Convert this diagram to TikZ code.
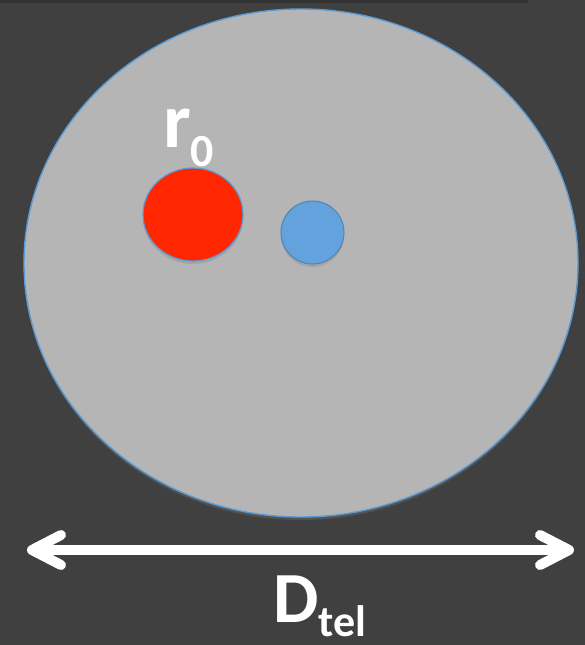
\documentclass[tikz,border=0pt]{standalone}
\usepackage{fontspec}
\setmainfont{Carlito}
\usetikzlibrary{arrows.meta,shadows}
\definecolor{slate}{HTML}{404040}
\definecolor{pupilgray}{HTML}{B5B5B5}
\definecolor{rimblue}{HTML}{5B9BD5}
\definecolor{cellred}{HTML}{FF2600}
\definecolor{starblue}{HTML}{64A2DD}
\begin{document}
\begin{tikzpicture}[x=1pt, y=-1pt,
    lbl/.style={text=white, font=\bfseries\fontsize{78}{78}\selectfont, inner sep=0pt},
    soft/.style={drop shadow={shadow xshift=0pt, shadow yshift=-3pt, opacity=0.3}}]
  \fill[slate] (0,0) rectangle (585,645);
  \clip (0,0) rectangle (585,645);
  \useasboundingbox (0,0) rectangle (585,645);
  \fill[black, opacity=0.2] (0,0) rectangle (528,3);
  % telescope pupil
  \draw[rimblue, fill=pupilgray, line width=1.4pt, soft] (301,263) ellipse (277 and 254);
  % coherence cell and star
  \draw[rimblue, fill=cellred, line width=1.2pt, soft] (193,214.5) ellipse (50 and 46.5);
  \draw[rimblue!85!black, fill=starblue, line width=1pt, soft] (312.5,232.5) circle (31.5);
  \node[lbl, anchor=base west] (rzero) at (163,147) {r\raisebox{-19pt}{\fontsize{46}{46}\selectfont 0}};
  % diameter
  \coordinate (dleft) at (27,550);
  \coordinate (dright) at (574,550);
  \draw[white, line width=10pt, {Straight Barb[round, length=29pt, width=30pt]}-{Straight Barb[round, length=29pt, width=30pt]}] (dleft) -- (dright);
  \node[lbl, anchor=base west, font=\bfseries\fontsize{72}{72}\selectfont] (dtel) at (273,622) {D\raisebox{-14pt}{\fontsize{44}{44}\selectfont tel}};
\end{tikzpicture}
\end{document}
